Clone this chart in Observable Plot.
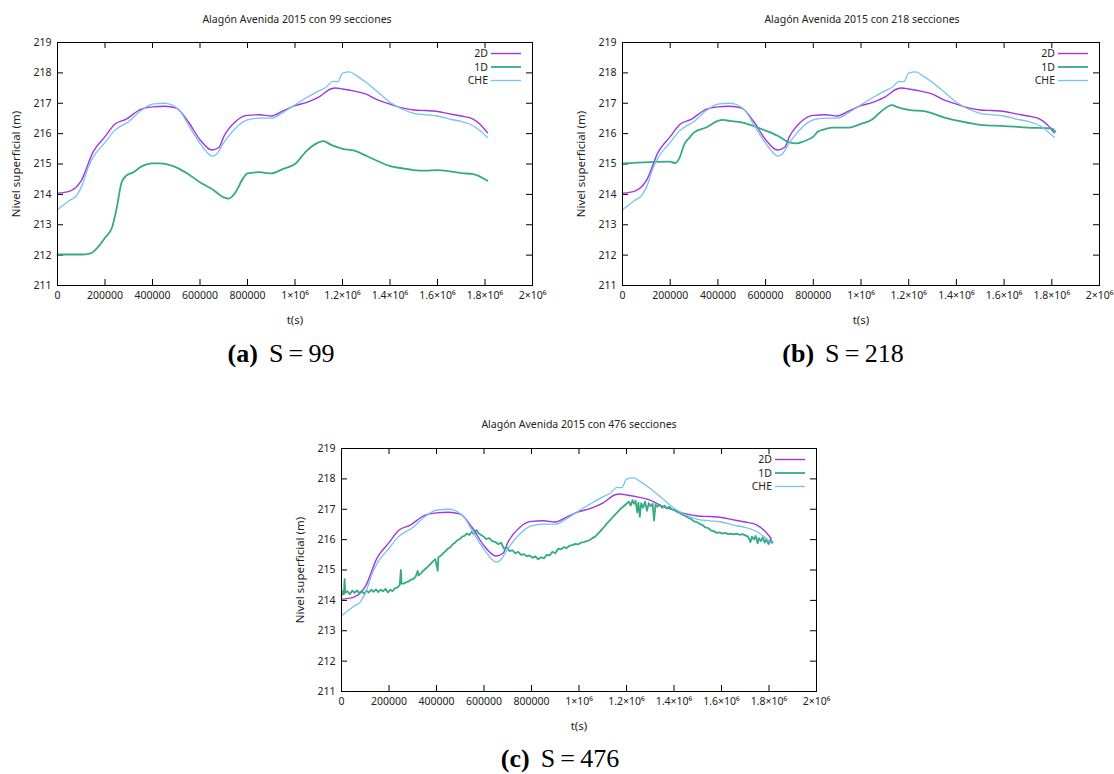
<!DOCTYPE html>
<html>
<head>
<meta charset="utf-8">
<script src="https://cdn.jsdelivr.net/npm/d3@7"></script>
<script src="https://cdn.jsdelivr.net/npm/@observablehq/plot@0.6"></script>
<style>
  body { margin: 0; background: #fff; }
  #page { position: relative; width: 1114px; height: 774px; overflow: hidden; background: #fff; }
  .panel { position: absolute; }
  .title { position: absolute; transform: translateX(-50%); white-space: nowrap;
           font: 10.5px "Noto Sans", sans-serif; color: #222; }
  .caption { position: absolute; transform: translateX(-50%); white-space: nowrap;
             font: 26px "Liberation Serif", serif; color: #000; }
  .caption b { margin-right: 11px; }
</style>
</head>
<body>
<div id="page"></div>
<script>
// Water surface level (m) against time (s), Alagón flood 2015.

// 2D model, shared by all three panels
const t2D = [0, 50000, 100000, 150000, 200000, 240000, 290000, 350000, 400000, 450000, 500000,
  550000, 600000, 650000, 680000, 700000, 750000, 800000, 850000, 900000, 950000, 1000000,
  1050000, 1100000, 1150000, 1170000, 1200000, 1250000, 1300000, 1350000, 1400000, 1450000,
  1500000, 1550000, 1600000, 1650000, 1700000, 1750000, 1780000, 1810000];
const h2D = [214.04, 214.1, 214.45, 215.4, 215.9, 216.3, 216.48, 216.8, 216.88, 216.9, 216.84,
  216.4, 215.8, 215.46, 215.55, 215.9, 216.4, 216.6, 216.62, 216.58, 216.75, 216.92,
  217.03, 217.2, 217.47, 217.5, 217.47, 217.4, 217.3, 217.1, 216.97, 216.85,
  216.78, 216.76, 216.73, 216.65, 216.58, 216.48, 216.3, 216.03];

// CHE gauge record, shared by all three panels
const tCHE = [0, 50000, 80000, 100000, 130000, 150000, 200000, 240000, 300000, 350000, 400000,
  450000, 480000, 520000, 550000, 600000, 630000, 650000, 670000, 700000, 750000, 800000,
  850000, 900000, 950000, 1000000, 1050000, 1100000, 1130000, 1160000, 1180000, 1200000,
  1230000, 1260000, 1300000, 1350000, 1400000, 1450000, 1500000, 1550000, 1600000, 1650000,
  1700000, 1750000, 1810000];
const hCHE = [213.49, 213.8, 213.96, 214.23, 214.9, 215.22, 215.71, 216.1, 216.4, 216.75, 216.97,
  217.0, 216.95, 216.7, 216.3, 215.68, 215.38, 215.26, 215.33, 215.7, 216.18, 216.45,
  216.51, 216.51, 216.7, 216.95, 217.19, 217.41, 217.52, 217.72, 217.71, 217.99,
  218.03, 217.9, 217.68, 217.36, 217.03, 216.81, 216.67, 216.62, 216.58, 216.48,
  216.4, 216.26, 215.88];

// 1D model, 99 sections
const t1D99 = [0, 100000, 140000, 170000, 200000, 230000, 250000, 270000, 290000, 320000, 350000,
  400000, 430000, 500000, 550000, 600000, 650000, 700000, 720000, 750000, 780000, 800000,
  850000, 900000, 950000, 1000000, 1050000, 1100000, 1120000, 1150000, 1200000, 1250000,
  1300000, 1350000, 1400000, 1450000, 1500000, 1550000, 1600000, 1650000, 1700000, 1750000, 1810000];
const h1D99 = [212.02, 212.02, 212.06, 212.26, 212.57, 212.92, 213.58, 214.4, 214.62, 214.73, 214.9,
  215.02, 215.02, 214.89, 214.67, 214.4, 214.18, 213.9, 213.86, 214.07, 214.51, 214.69,
  214.73, 214.69, 214.84, 215.0, 215.44, 215.71, 215.75, 215.64, 215.5, 215.44,
  215.27, 215.09, 214.93, 214.86, 214.8, 214.78, 214.8, 214.76, 214.7, 214.67, 214.45];

// 1D model, 218 sections
const t1D218 = [0, 200000, 220000, 240000, 260000, 280000, 300000, 350000, 400000, 420000, 450000,
  500000, 550000, 600000, 650000, 700000, 730000, 760000, 800000, 820000, 850000, 880000,
  950000, 1000000, 1050000, 1080000, 1130000, 1150000, 1200000, 1270000, 1350000, 1420000,
  1500000, 1600000, 1700000, 1800000, 1815000];
const h1D218 = [215.02, 215.08, 215.03, 215.22, 215.66, 215.86, 216.04, 216.2, 216.42, 216.45, 216.42,
  216.37, 216.25, 216.1, 215.93, 215.71, 215.68, 215.75, 215.9, 216.07, 216.15, 216.2,
  216.2, 216.32, 216.48, 216.7, 216.94, 216.88, 216.78, 216.73, 216.53, 216.4,
  216.29, 216.25, 216.2, 216.17, 216.07];

// 1D model, 476 sections (noisy output, time in thousands of seconds)
const t1D476k = [0, 5, 10, 13, 16, 25, 35, 45, 55, 65, 75, 85, 95, 105, 115, 125, 135, 145, 155,
  165, 175, 185, 195, 205, 215, 225, 235, 245, 250, 253, 262, 272, 282, 292, 302, 312, 321, 324,
  335, 345, 355, 365, 375, 385, 395, 405, 408, 418, 428, 438, 448, 458, 468, 478, 488, 498, 508,
  518, 528, 538, 548, 558, 568, 578, 588, 598, 610, 622, 635, 648, 660, 672, 684, 696, 708, 720,
  732, 744, 756, 768, 780, 792, 804, 816, 828, 840, 852, 864, 876, 888, 900, 912, 924, 936, 948,
  960, 972, 984, 996, 1008, 1020, 1032, 1044, 1056, 1068, 1080, 1092, 1104, 1116, 1128, 1140,
  1152, 1164, 1176, 1188, 1200, 1210, 1218, 1225, 1232, 1238, 1245, 1250, 1256, 1262, 1270, 1278,
  1286, 1294, 1302, 1310, 1316, 1322, 1330, 1340, 1350, 1360, 1370, 1380, 1390, 1400, 1412, 1424,
  1436, 1448, 1460, 1472, 1484, 1496, 1508, 1520, 1532, 1544, 1556, 1568, 1580, 1592, 1604, 1616,
  1628, 1640, 1652, 1664, 1676, 1688, 1700, 1712, 1722, 1728, 1736, 1744, 1752, 1758, 1766, 1774,
  1782, 1790, 1798, 1806, 1815];
const h1D476 = [214.15, 214.3, 214.2, 214.7, 214.25, 214.3, 214.2, 214.32, 214.25, 214.33, 214.24,
  214.3, 214.22, 214.32, 214.26, 214.35, 214.28, 214.36, 214.27, 214.35, 214.3, 214.38, 214.26,
  214.35, 214.3, 214.4, 214.42, 214.5, 215.0, 214.55, 214.55, 214.6, 214.62, 214.68, 214.7, 214.78,
  214.97, 214.82, 214.9, 214.98, 215.05, 215.12, 215.2, 215.28, 215.36, 214.97, 215.42, 215.47,
  215.55, 215.62, 215.7, 215.75, 215.85, 215.9, 215.98, 216.02, 216.1, 216.12, 216.2, 216.15,
  216.25, 216.18, 216.32, 216.2, 216.15, 216.1, 216.02, 216.05, 215.95, 215.92, 215.85, 215.9,
  215.7, 215.75, 215.62, 215.65, 215.55, 215.6, 215.5, 215.52, 215.45, 215.48, 215.4, 215.45,
  215.35, 215.42, 215.38, 215.5, 215.48, 215.6, 215.55, 215.7, 215.68, 215.75, 215.72, 215.8,
  215.82, 215.86, 215.84, 215.9, 215.92, 215.95, 215.98, 216.05, 216.1, 216.2, 216.3, 216.4,
  216.52, 216.62, 216.72, 216.82, 216.92, 217.02, 217.1, 217.18, 217.25, 217.12, 217.3, 217.18,
  217.28, 216.9, 217.22, 216.75, 217.2, 217.05, 217.25, 216.95, 217.2, 217.1, 217.18, 216.62,
  217.15, 217.08, 217.15, 217.05, 217.12, 217.02, 217.08, 217.0, 216.98, 216.92, 216.88, 216.82,
  216.78, 216.72, 216.68, 216.6, 216.58, 216.52, 216.48, 216.4, 216.38, 216.3, 216.28, 216.22,
  216.24, 216.2, 216.22, 216.18, 216.2, 216.17, 216.2, 216.16, 216.18, 216.14, 216.1, 215.92,
  216.1, 216.0, 216.12, 215.88, 216.05, 215.95, 216.08, 215.9, 216.02, 215.85, 216.0, 215.9];

const xTicks = [0, 200000, 400000, 600000, 800000, 1000000, 1200000, 1400000, 1600000, 1800000, 2000000];
const yTicks = [211, 212, 213, 214, 215, 216, 217, 218, 219];
const seriesNames = ["2D", "1D", "CHE"];
const seriesColors = ["#a236dc", "#34ab84", "#74c4ef"];
const seriesWidths = [1.4, 1.8, 1.3];

const zip = (ts, hs) => ts.map((t, i) => ({t, h: hs[i]}));
const fmtX = d => d < 1e6 ? String(d) : `${d / 1e6}×10⁶`;
const FONT = "Noto Sans";
const TICK = 6; // inward tick length, px

function panel({title, caption, oneD, curve1D, left, top, width, height, m, titleX, titleY, capX, capY}) {
  const page = document.getElementById("page");
  const fw = width - m[0] - m[1];
  const fh = height - m[2] - m[3];
  const fig = Plot.plot({
    width, height,
    marginLeft: m[0], marginRight: m[1], marginTop: m[2], marginBottom: m[3],
    style: {fontFamily: FONT, fontSize: "10.5px", color: "#222", background: "transparent", overflow: "visible"},
    x: {domain: [0, 2000000]},
    y: {domain: [211, 219]},
    marks: [
      Plot.axisX(xTicks, {anchor: "bottom", tickSize: 0, tickPadding: 6, tickFormat: fmtX,
        label: "t(s)", labelAnchor: "center", labelOffset: 38, labelArrow: "none"}),
      Plot.axisY(yTicks, {anchor: "left", tickSize: 0, tickPadding: 6,
        label: "Nivel superficial (m)", labelAnchor: "center", labelOffset: 46, labelArrow: "none"}),
      // gnuplot-style inward ticks on all four sides
      Plot.tickX(xTicks, {x: d => d, insetTop: fh - TICK, stroke: "#000"}),
      Plot.tickX(xTicks, {x: d => d, insetBottom: fh - TICK, stroke: "#000"}),
      Plot.tickY(yTicks, {y: d => d, insetRight: fw - TICK, stroke: "#000"}),
      Plot.tickY(yTicks, {y: d => d, insetLeft: fw - TICK, stroke: "#000"}),
      Plot.line(zip(t2D, h2D), {x: "t", y: "h", stroke: seriesColors[0], strokeWidth: seriesWidths[0], curve: "monotone-x"}),
      Plot.line(oneD, {x: "t", y: "h", stroke: seriesColors[1], strokeWidth: seriesWidths[1], curve: curve1D}),
      Plot.line(zip(tCHE, hCHE), {x: "t", y: "h", stroke: seriesColors[2], strokeWidth: seriesWidths[2], curve: "monotone-x"}),
      Plot.frame({stroke: "#000", strokeWidth: 1})
    ]
  });
  fig.classList.add("panel");
  fig.style.left = left + "px";
  fig.style.top = top + "px";
  // axis titles slightly larger than the tick labels
  d3.select(fig).selectAll('[aria-label="x-axis label"], [aria-label="y-axis label"]').attr("font-size", 11.5);

  // key, top right inside the frame
  const key = d3.select(fig).append("g").attr("font-family", FONT).attr("font-size", 10.5).attr("fill", "#222");
  const xr = width - m[1];
  seriesNames.forEach((name, i) => {
    const y = m[2] + 11.5 + i * 13.5;
    key.append("text").attr("x", xr - 44).attr("y", y).attr("dy", "0.35em").attr("text-anchor", "end").text(name);
    key.append("line").attr("x1", xr - 41).attr("x2", xr - 11).attr("y1", y).attr("y2", y)
      .attr("stroke", seriesColors[i]).attr("stroke-width", seriesWidths[i]);
  });
  page.appendChild(fig);

  const t = document.createElement("div");
  t.className = "title";
  t.style.left = titleX + "px";
  t.style.top = titleY + "px";
  t.textContent = title;
  page.appendChild(t);

  const c = document.createElement("div");
  c.className = "caption";
  c.style.left = capX + "px";
  c.style.top = capY + "px";
  c.innerHTML = `<b>(${caption[0]})</b>S\u2009=\u2009${caption[1]}`;
  page.appendChild(c);
}

panel({title: "Alagón Avenida 2015 con 99 secciones", caption: ["a", "99"],
  oneD: zip(t1D99, h1D99), curve1D: "monotone-x",
  left: 0, top: 0, width: 560, height: 330, m: [57, 28, 42, 45],
  titleX: 297, titleY: 12, capX: 281, capY: 339});

panel({title: "Alagón Avenida 2015 con 218 secciones", caption: ["b", "218"],
  oneD: zip(t1D218, h1D218), curve1D: "monotone-x",
  left: 560, top: 0, width: 554, height: 330, m: [62, 15, 42, 45],
  titleX: 862, titleY: 12, capX: 843, capY: 339});

panel({title: "Alagón Avenida 2015 con 476 secciones", caption: ["c", "476"],
  oneD: zip(t1D476k.map(d => d * 1000), h1D476), curve1D: "linear",
  left: 280, top: 400, width: 560, height: 340, m: [61, 24, 48, 49],
  titleX: 579, titleY: 417, capX: 560, capY: 744});
</script>
</body>
</html>
